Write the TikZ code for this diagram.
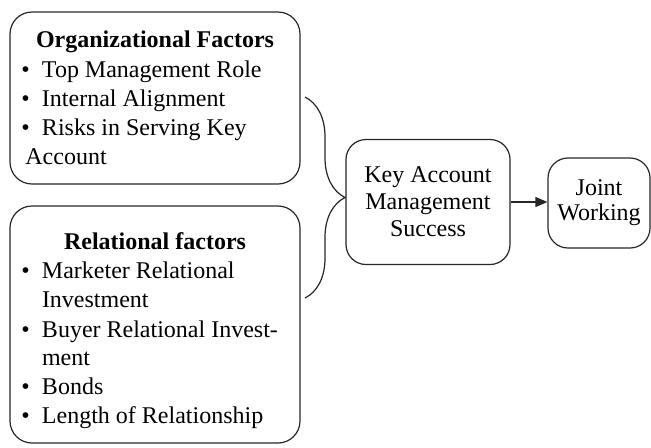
\documentclass[tikz,border=0pt]{standalone}
\usepackage{fontspec}
\setmainfont{Liberation Serif}
\usetikzlibrary{arrows.meta,decorations.pathreplacing}

% bullet for the factor lists
\newcommand{\bul}{\makebox[10.3pt][l]{\textbullet}}

\begin{document}
\begin{tikzpicture}[x=0.5pt,y=-0.5pt,
  every node/.style={inner sep=0pt,font=\fontsize{12}{14.5}\selectfont},
  roundbox/.style={draw=black!85,line width=0.6pt,rounded corners=#1},
  roundbox/.default=11pt,
  item/.style={anchor=base west}]
\useasboundingbox (0,0) rectangle (651,447);

% the two groups of factors
\node[roundbox,minimum width=145pt,minimum height=86pt] (orgbox) at (155,98) {};
\node[roundbox,minimum width=145pt,minimum height=118.5pt] (relbox) at (155,324.5) {};

\node[anchor=base] (orghead) at (155,47) {\textbf{Organizational Factors}};
\foreach \y/\txt [count=\i] in {77/Top Management Role,106/Internal Alignment,135/Risks in Serving Key}
  \node[item] (org-\i) at (21,\y) {\bul\txt};
\node[item] (org-4) at (25,164) {Account};

\node[anchor=base] (relhead) at (155,249) {\textbf{Relational factors}};
\foreach \y/\txt [count=\i] in {278/Marketer Relational,337/Buyer Relational Invest-,394/Bonds,423/Length of Relationship}
  \node[item] (rel-\i) at (21,\y) {\bul\txt};
\node[item] (relcont-1) at (41.6,307) {Investment};
\node[item] (relcont-2) at (41.6,365) {ment};

% outcome boxes
\node[roundbox=10pt,minimum width=82pt,minimum height=62.5pt,align=center,
  font=\fontsize{12}{13.5}\selectfont] (kam) at (428,202) {Key Account\\Management\\Success};
\node[roundbox=10pt,minimum width=51pt,minimum height=45pt,align=center,
  font=\fontsize{12}{12.5}\selectfont] (joint) at (599,203) {Joint\\Working};

% brace joining both groups
\coordinate (bracetop) at (305,97);
\coordinate (bracebot) at (305,298);
\draw[black!85,line width=0.6pt,decorate,decoration={brace,amplitude=20pt}] (bracetop) -- (bracebot);

\draw[black!85,line width=0.6pt,-{Triangle[length=6pt,width=5pt]}] (kam.east) -- (kam.east -| joint.west);
\end{tikzpicture}
\end{document}
